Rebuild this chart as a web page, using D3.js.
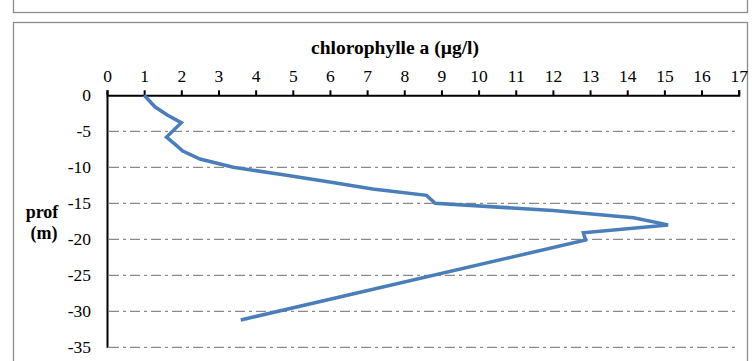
<!DOCTYPE html>
<html>
<head>
<meta charset="utf-8">
<script src="https://cdn.jsdelivr.net/npm/d3@7/dist/d3.min.js"></script>
<style>
  html, body { margin: 0; padding: 0; background: #fff; }
  svg { display: block; }
  text { font-family: "Liberation Serif", "Times New Roman", serif; fill: #000; }
</style>
</head>
<body>
<svg id="chart" width="756" height="361"></svg>
<script>
// Chlorophyll-a profile: concentration (µg/l) against depth (m)
const chloro = [1.0, 1.29, 1.61, 2.0, 1.6, 1.82, 2.04, 2.5, 3.4, 4.7, 5.95, 7.15, 8.6, 8.83, 12.0, 14.17, 15.1, 12.82, 12.88, 3.6];
const depth  = [0, -1.6, -2.7, -3.8, -5.8, -6.75, -7.75, -8.85, -10, -11, -12, -13, -13.9, -15, -16, -17, -18, -19.1, -20.1, -31.2];
const xTicks = d3.range(0, 18, 1);
const yTicks = d3.range(0, -36, -5);

const svg = d3.select("#chart");

// outer frames
svg.append("rect").attr("x", 13.5).attr("y", -10).attr("width", 734).attr("height", 22.5)
  .attr("fill", "none").attr("stroke", "#8c8c8c").attr("stroke-width", 1.3);
svg.append("rect").attr("x", 13.5).attr("y", 22.5).attr("width", 734).attr("height", 360)
  .attr("fill", "none").attr("stroke", "#8c8c8c").attr("stroke-width", 1.3);

const x = d3.scaleLinear().domain([0, 17]).range([107, 738.7]);
const y = d3.scaleLinear().domain([0, -35]).range([95.3, 347.3]);

// horizontal dash-dot gridlines
svg.append("g")
  .selectAll("line")
  .data(yTicks.filter(d => d !== 0))
  .join("line")
  .attr("x1", x(0) + 2).attr("x2", x(17))
  .attr("y1", d => y(d)).attr("y2", d => y(d))
  .attr("stroke", "#8a8a8a").attr("stroke-width", 1.3)
  .attr("stroke-dasharray", "10,4,3,4");

// top x axis
const xAxis = svg.append("g")
  .attr("transform", `translate(0,${y(0)})`)
  .call(d3.axisTop(x).tickValues(xTicks).tickSize(5).tickPadding(8).tickFormat(d3.format("d")));
xAxis.select(".domain").attr("stroke", "#000").attr("stroke-width", 2);
xAxis.selectAll(".tick line").attr("stroke", "#000").attr("stroke-width", 2);
xAxis.selectAll("text").style("font-size", "17.5px").style("font-family", "Liberation Serif, serif");

// left y axis
const yAxis = svg.append("g")
  .attr("transform", `translate(${x(0)},0)`)
  .call(d3.axisLeft(y).tickValues(yTicks).tickSize(0).tickPadding(16).tickFormat(d3.format("d")));
yAxis.select(".domain").attr("stroke", "#000").attr("stroke-width", 2);
yAxis.selectAll("text").style("font-size", "17.5px").style("font-family", "Liberation Serif, serif")
  .text(d => d === 0 ? "0" : String(d).replace("\u2212", "-"));

// profile line
const pts = chloro.map((c, i) => [c, depth[i]]);
svg.append("path")
  .datum(pts)
  .attr("fill", "none")
  .attr("stroke", "#4a7ebb")
  .attr("stroke-width", 3.5)
  .attr("stroke-linejoin", "miter")
  .attr("stroke-miterlimit", 3)
  .attr("d", d3.line().x(d => x(d[0])).y(d => y(d[1])));

// titles
svg.append("text").attr("x", 395).attr("y", 54).attr("text-anchor", "middle")
  .style("font-size", "19.5px").style("font-weight", "bold")
  .text("chlorophylle a (µg/l)");
svg.append("text").attr("x", 42).attr("y", 218).attr("text-anchor", "middle")
  .style("font-size", "18px").style("font-weight", "bold").text("prof");
svg.append("text").attr("x", 44).attr("y", 239).attr("text-anchor", "middle")
  .style("font-size", "18px").style("font-weight", "bold").text("(m)");
</script>
</body>
</html>
